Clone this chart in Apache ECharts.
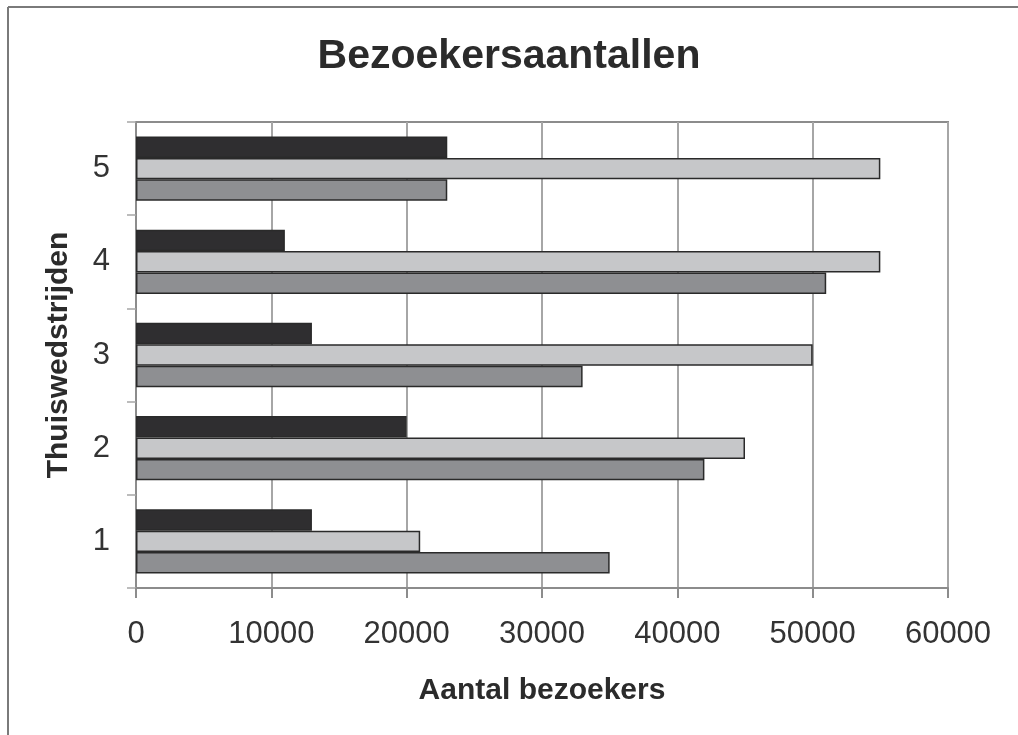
<!DOCTYPE html>
<html>
<head>
<meta charset="utf-8">
<title>Bezoekersaantallen</title>
<script src="https://cdn.jsdelivr.net/npm/echarts@6/dist/echarts.min.js"></script>
<style>
  html, body { margin: 0; padding: 0; background: #ffffff; }
  #chart { width: 1018px; height: 735px; }
</style>
</head>
<body>
<div id="chart"></div>
<script>
// Home matches (category axis) and visitor numbers per series
var wedstrijden = ['1', '2', '3', '4', '5'];
var reeksBoven = [13000, 20000, 13000, 11000, 23000];   // black, top bar
var reeksMidden = [21000, 45000, 50000, 55000, 55000];  // light grey, middle bar
var reeksOnder = [35000, 42000, 33000, 51000, 23000];   // dark grey, lowest bar
var xTicks = [0, 10000, 20000, 30000, 40000, 50000, 60000];

var FONT = '"Liberation Sans", Arial, Helvetica, sans-serif';
var TEXT = '#2b2b2b';
var AXIS = '#8c8c8c';

function barSeries(name, data, fill) {
  return {
    name: name,
    type: 'bar',
    data: data,
    barGap: '0%',
    barCategoryGap: '31%',
    itemStyle: { color: fill, borderColor: '#2a2a2a', borderWidth: 1.5 },
    emphasis: { disabled: true },
    silent: true
  };
}

var chart = echarts.init(document.getElementById('chart'), null, { renderer: 'canvas' });
chart.setOption({
  backgroundColor: '#ffffff',
  animation: false,
  title: {
    text: 'Bezoekersaantallen',
    left: 'center',
    top: 31,
    textStyle: { fontFamily: FONT, fontSize: 41, fontWeight: 'bold', color: TEXT }
  },
  grid: { left: 136, right: 70, top: 122, bottom: 147, containLabel: false,
          show: true, borderColor: AXIS, borderWidth: 2, backgroundColor: 'transparent' },
  xAxis: {
    type: 'value',
    min: xTicks[0],
    max: xTicks[xTicks.length - 1],
    interval: xTicks[1] - xTicks[0],
    name: 'Aantal bezoekers',
    nameLocation: 'middle',
    nameGap: 88,
    nameTextStyle: { fontFamily: FONT, fontSize: 30, fontWeight: 'bold', color: TEXT },
    axisLine: { show: true, lineStyle: { color: AXIS, width: 2 } },
    axisTick: { show: true, inside: false, length: 10, lineStyle: { color: AXIS, width: 2 } },
    axisLabel: { margin: 31, fontFamily: FONT, fontSize: 31, color: '#333333',
                 formatter: function (v) { return String(v); } },
    splitLine: { show: true, lineStyle: { color: '#a6a6a6', width: 2 } }
  },
  yAxis: {
    type: 'category',
    data: wedstrijden,
    name: 'Thuiswedstrijden',
    nameLocation: 'middle',
    nameGap: 62,
    nameTextStyle: { fontFamily: FONT, fontSize: 30, fontWeight: 'bold', color: TEXT },
    axisLine: { show: true, lineStyle: { color: AXIS, width: 2 } },
    axisTick: { show: true, inside: false, length: 9, alignWithLabel: false, lineStyle: { color: '#a6a6a6', width: 1.5 } },
    axisLabel: { margin: 26, fontFamily: FONT, fontSize: 31, color: '#333333' },
    splitLine: { show: false }
  },
  series: [
    barSeries('Reeks 1', reeksBoven, '#2f2e30'),
    barSeries('Reeks 2', reeksMidden, '#c6c7c9'),
    barSeries('Reeks 3', reeksOnder, '#8e8f92')
  ],
  graphic: [
    { type: 'line', shape: { x1: 8, y1: 7, x2: 1018, y2: 7 }, style: { stroke: '#7a7a7a', lineWidth: 2 } },
    { type: 'line', shape: { x1: 8, y1: 7, x2: 8, y2: 735 }, style: { stroke: '#7a7a7a', lineWidth: 2 } }
  ]
});
</script>
</body>
</html>
